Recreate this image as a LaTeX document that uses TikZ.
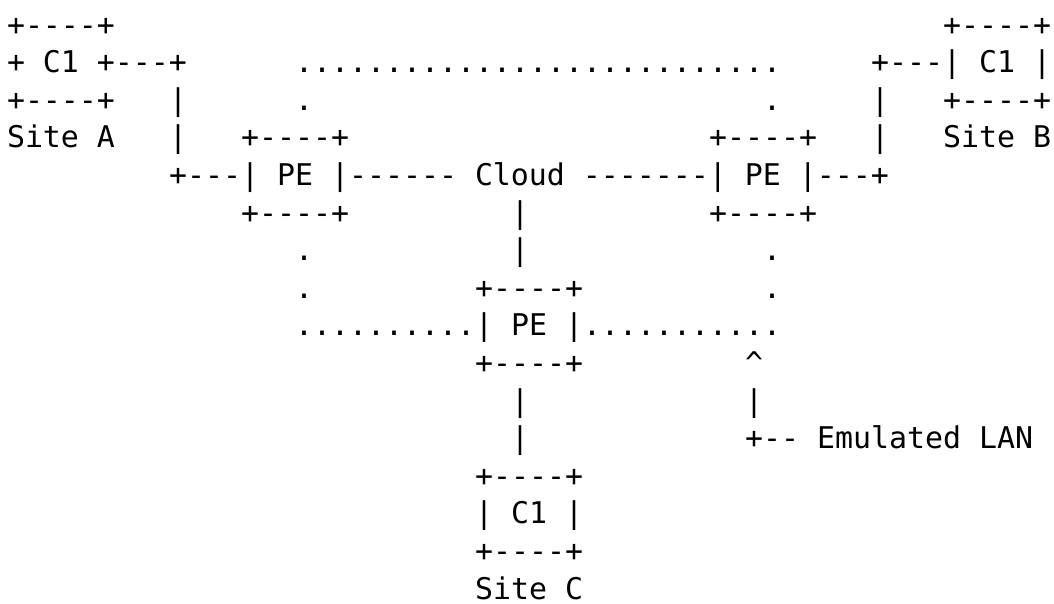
\documentclass[tikz,border=0pt]{standalone}
\usepackage{fontspec}
\setmonofont{DejaVu Sans Mono}
\begin{document}
\begin{tikzpicture}[x=1pt,y=1pt,
  seg/.style={anchor=base west,inner sep=0pt,outer sep=0pt,
    font=\ttfamily\fontsize{29.9}{37.6}\selectfont,text=black}]
\useasboundingbox[fill=white] (0,0) rectangle (1054,-603);
\newcommand\ascseg[4]{\node[seg] (#1) at ({7+18*#2},{-35-37.6*(#3-1)}) {#4};}
% row 1
\ascseg{boxAtop}{0}{1}{+----+}
\ascseg{boxBtop}{52}{1}{+----+}
% row 2
\ascseg{ceA}{0}{2}{+ C1 +---+}
\ascseg{dotsTop}{16}{2}{...........................}
\ascseg{ceB}{48}{2}{+---| C1 |}
% row 3
\ascseg{boxAbot}{0}{3}{+----+}
\ascseg{linkA1}{9}{3}{|}
\ascseg{dotL1}{16}{3}{.}
\ascseg{dotR1}{42}{3}{.}
\ascseg{linkB1}{48}{3}{|}
\ascseg{boxBbot}{52}{3}{+----+}
% row 4
\ascseg{siteA}{0}{4}{Site A}
\ascseg{linkA2}{9}{4}{|}
\ascseg{peAtop}{13}{4}{+----+}
\ascseg{peBtop}{39}{4}{+----+}
\ascseg{linkB2}{48}{4}{|}
\ascseg{siteB}{52}{4}{Site B}
% row 5
\ascseg{cloudrow}{9}{5}{+---| PE |------ Cloud -------| PE |---+}
% row 6
\ascseg{peAbot}{13}{6}{+----+}
\ascseg{cloudlink1}{28}{6}{|}
\ascseg{peBbot}{39}{6}{+----+}
% row 7
\ascseg{dotL2}{16}{7}{.}
\ascseg{cloudlink2}{28}{7}{|}
\ascseg{dotR2}{42}{7}{.}
% row 8
\ascseg{dotL3}{16}{8}{.}
\ascseg{peCtop}{26}{8}{+----+}
\ascseg{dotR3}{42}{8}{.}
% row 9
\ascseg{perow}{16}{9}{..........| PE |...........}
% row 10
\ascseg{peCbot}{26}{10}{+----+}
\ascseg{caret}{41}{10}{\textasciicircum}
% row 11
\ascseg{linkC1}{28}{11}{|}
\ascseg{lanlink}{41}{11}{|}
% row 12
\ascseg{linkC2}{28}{12}{|}
\ascseg{lanlabel}{41}{12}{+-- Emulated LAN}
% rows 13-16
\ascseg{ceCtop}{26}{13}{+----+}
\ascseg{ceC}{26}{14}{| C1 |}
\ascseg{ceCbot}{26}{15}{+----+}
\ascseg{siteC}{26}{16}{Site C}
\end{tikzpicture}
\end{document}
